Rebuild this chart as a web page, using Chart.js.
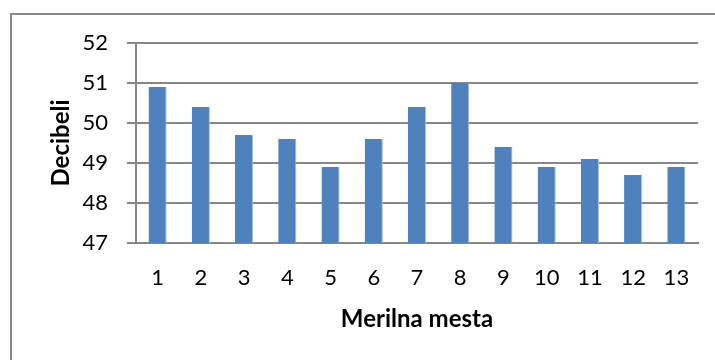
<!DOCTYPE html>
<html>
<head>
<meta charset="utf-8">
<style>
  html, body { margin: 0; padding: 0; background: #ffffff; }
  #wrap { position: relative; width: 715px; height: 360px; }
</style>
<script src="https://cdn.jsdelivr.net/npm/chart.js@4/dist/chart.umd.min.js"></script>
</head>
<body>
<div id="wrap"><canvas id="c" width="715" height="360"></canvas></div>
<script>
// Noise level per measuring point
const categories = ['1', '2', '3', '4', '5', '6', '7', '8', '9', '10', '11', '12', '13'];
const decibels = [50.9, 50.4, 49.7, 49.6, 48.9, 49.6, 50.4, 51.0, 49.4, 48.9, 49.1, 48.7, 48.9];
const yMin = 47;
const yMax = 52;

const FONT = 'Lato, "Open Sans", "DejaVu Sans", sans-serif';
const GRID = '#878787';

// Frame around the whole chart
const framePlugin = {
  id: 'frame',
  beforeDraw(chart) {
    const ctx = chart.ctx;
    ctx.save();
    ctx.fillStyle = '#ffffff';
    ctx.fillRect(0, 0, chart.width, chart.height);
    ctx.strokeStyle = '#8a8a8a';
    ctx.lineWidth = 2;
    ctx.strokeRect(11, 14, 800, 500);
    ctx.restore();
  }
};

new Chart(document.getElementById('c'), {
  type: 'bar',
  data: {
    labels: categories,
    datasets: [{
      data: decibels,
      backgroundColor: '#4f81bd',
      borderColor: '#a9c0de',
      borderWidth: { right: 1, top: 0, left: 0, bottom: 0 },
      borderSkipped: false,
      barPercentage: 0.42,
      categoryPercentage: 1.0
    }]
  },
  options: {
    responsive: false,
    animation: false,
    devicePixelRatio: 1,
    layout: { padding: { top: 43, right: 17, left: 0, bottom: 0 } },
    plugins: {
      legend: { display: false },
      tooltip: { enabled: false }
    },
    scales: {
      x: {
        grid: { display: false, drawTicks: false },
        border: { display: true, color: GRID, width: 2 },
        ticks: {
          color: '#000000',
          font: { family: FONT, size: 22 },
          padding: 22,
          maxRotation: 0,
          autoSkip: false
        },
        title: {
          display: true,
          text: 'Merilna mesta',
          color: '#000000',
          font: { family: FONT, size: 24, weight: 'bold' },
          padding: { top: 0, bottom: 26 }
        },
        afterFit(scale) { scale.height = 117; }
      },
      y: {
        min: yMin,
        max: yMax,
        ticks: {
          stepSize: 1,
          color: '#000000',
          font: { family: FONT, size: 22 },
          padding: 19
        },
        grid: {
          color: GRID,
          lineWidth: 2,
          drawTicks: true,
          tickLength: 9,
          tickColor: GRID
        },
        border: { display: true, color: GRID, width: 2 },
        title: {
          display: true,
          text: 'Decibeli',
          color: '#000000',
          font: { family: FONT, size: 24, weight: 'bold' },
          padding: { top: 47, bottom: 0 }
        },
        afterFit(scale) { scale.width = 136; }
      }
    }
  },
  plugins: [framePlugin]
});
</script>
</body>
</html>
